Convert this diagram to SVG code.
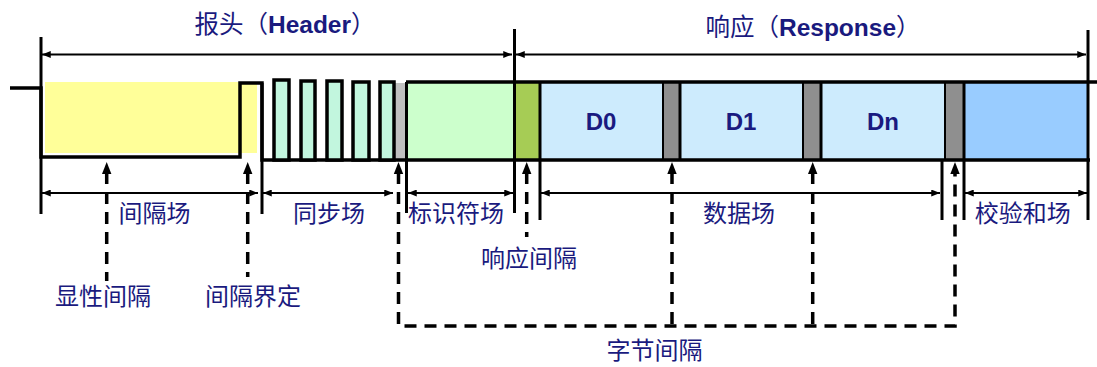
<svg xmlns="http://www.w3.org/2000/svg" width="1097" height="367" viewBox="0 0 1097 367">
<defs>
<marker id="ah" viewBox="0 0 10 8" refX="10" refY="4" markerWidth="9" markerHeight="7" markerUnits="userSpaceOnUse" orient="auto-start-reverse"><path d="M0,0 L10,4 L0,8 z" fill="#000"/></marker>
<style>
.lbl{font-family:"Noto Sans CJK SC","Liberation Sans",sans-serif;font-size:24px;fill:#1a1a7e;text-anchor:middle}
.ttl{font-family:"Liberation Sans","Noto Sans CJK SC",sans-serif;font-size:24.5px;fill:#1a1a7e;text-anchor:middle}
.ttl .b{font-weight:bold}
.dv{font-family:"Liberation Sans",Arial,sans-serif;font-size:24px;font-weight:bold;fill:#1a1a80;text-anchor:middle}
.wave{fill:none;stroke:#000;stroke-width:3.5;stroke-linejoin:miter}
.pulse{fill:#c2f6de;stroke:#000;stroke-width:3.5}
.ext{stroke:#000;stroke-width:3;fill:none}
.thin{stroke:#000;stroke-width:2;fill:none}
.dim{stroke:#000;stroke-width:2;fill:none;marker-start:url(#ah);marker-end:url(#ah)}
.dash{stroke:#000;stroke-width:3.5;fill:none;stroke-dasharray:12 8}
.head{fill:#000}
</style>
</defs>

<g id="fills">
<rect x="45" y="82" width="212" height="71" fill="#ffff99"/>
<rect x="394" y="83" width="13" height="77" fill="#c0c0c0"/>
<rect x="407" y="82" width="107" height="78" fill="#ccffcc"/>
<rect x="515" y="82" width="25" height="78" fill="#a6cc55"/>
<rect x="540" y="82" width="123" height="78" fill="#cdebfd"/>
<rect x="663" y="82" width="17" height="78" fill="#8f8f8f"/>
<rect x="680" y="82" width="123" height="78" fill="#cdebfd"/>
<rect x="803" y="82" width="18" height="78" fill="#8f8f8f"/>
<rect x="821" y="82" width="124" height="78" fill="#cdebfd"/>
<rect x="945" y="82" width="19" height="78" fill="#8f8f8f"/>
<rect x="964" y="82" width="124" height="78" fill="#99ccff"/>
</g>

<g id="waveform">
<path class="wave" d="M10,88 H41 V157 H240 V83 H262 V160 H1090"/>
<rect class="pulse" x="274" y="80" width="15" height="80"/>
<rect class="pulse" x="301" y="81" width="14" height="79"/>
<rect class="pulse" x="327" y="81" width="15" height="79"/>
<rect class="pulse" x="353" y="82" width="16" height="78"/>
<rect class="pulse" x="380" y="82" width="14" height="78"/>
<path class="wave" d="M406,82 H1097"/>
<line class="ext" x1="406.5" y1="82" x2="406.5" y2="213"/>
<line class="ext" x1="540" y1="82" x2="540" y2="220"/>
<line class="thin" x1="663" y1="82" x2="663" y2="161"/>
<line class="ext" x1="680" y1="82" x2="680" y2="161"/>
<line class="thin" x1="803" y1="82" x2="803" y2="161"/>
<line class="ext" x1="821" y1="82" x2="821" y2="161"/>
<line class="thin" x1="945" y1="82" x2="945" y2="161"/>
<line class="ext" x1="964" y1="82" x2="964" y2="220"/>
</g>

<g id="header-title"><text class="ttl" x="285" y="33">报头（<tspan class="b">Header</tspan>）</text></g>
<g id="response-title"><text class="ttl" x="813" y="36">响应（<tspan class="b">Response</tspan>）</text></g>

<g id="data-bytes">
<text class="dv" x="601" y="130">D0</text>
<text class="dv" x="741" y="130">D1</text>
<text class="dv" x="883" y="130">Dn</text>
</g>

<g id="connectors">
<line class="ext" x1="41" y1="37" x2="41" y2="214"/>
<line class="ext" x1="262" y1="83" x2="262" y2="214"/>
<line class="ext" x1="514.5" y1="29" x2="514.5" y2="213"/>
<line class="ext" x1="1088" y1="30" x2="1088" y2="220"/>
<line class="ext" x1="942" y1="161" x2="942" y2="220"/>

<line class="dim" x1="42" y1="54.5" x2="512" y2="54.5"/>
<line class="dim" x1="516" y1="54.5" x2="1086" y2="54.5"/>

<line class="dim" x1="42" y1="193" x2="258" y2="193"/>
<line class="dim" x1="263" y1="193" x2="393" y2="193"/>
<line class="dim" x1="408" y1="193" x2="513" y2="193"/>
<line class="dim" x1="541" y1="193" x2="940" y2="193"/>
<line class="dim" x1="965" y1="193" x2="1087" y2="193"/>

<path class="dash" d="M106.7,172 V281"/>
<polygon class="head" points="102,174 106.7,162 111.4,174"/>
<path class="dash" d="M247.7,172 V277"/>
<polygon class="head" points="243,174 247.7,162 252.4,174"/>
<path class="dash" d="M526.7,172 V237"/>
<polygon class="head" points="522,174 526.7,162 531.4,174"/>

<path class="dash" d="M398.5,172 V326 H955 V172"/>
<path class="dash" d="M672,172 V326"/>
<path class="dash" d="M812.7,172 V326"/>
<polygon class="head" points="393.8,174 398.5,162 403.2,174"/>
<polygon class="head" points="667.3,174 672,162 676.7,174"/>
<polygon class="head" points="808,174 812.7,162 817.4,174"/>
<polygon class="head" points="950.3,174 955,162 959.7,174"/>
</g>

<g id="labels">
<text class="lbl" x="154.5" y="222">间隔场</text>
<text class="lbl" x="329" y="222">同步场</text>
<text class="lbl" x="456" y="222">标识符场</text>
<text class="lbl" x="739" y="222">数据场</text>
<text class="lbl" x="1022.7" y="222">校验和场</text>
<text class="lbl" x="529" y="267">响应间隔</text>
<text class="lbl" x="103" y="305">显性间隔</text>
<text class="lbl" x="253" y="305">间隔界定</text>
<text class="lbl" x="654.5" y="359">字节间隔</text>
</g>
</svg>
